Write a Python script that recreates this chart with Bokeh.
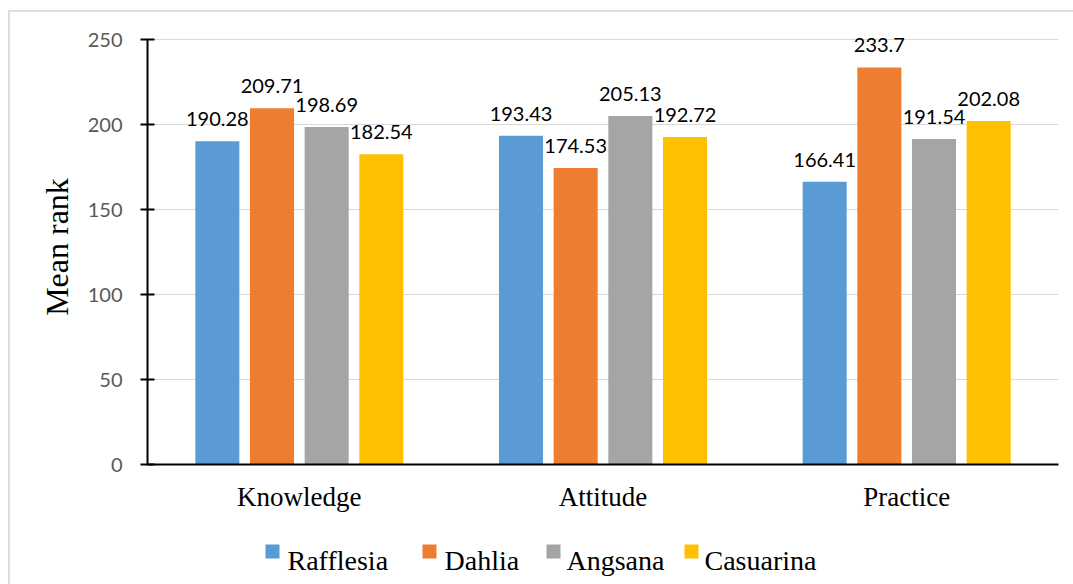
from bokeh.plotting import figure
from bokeh.layouts import column
from bokeh.models import ColumnDataSource, FactorRange, Range1d, SingleIntervalTicker
from bokeh.transform import dodge
from bokeh.core.properties import value
from bokeh.embed import file_html
from bokeh.resources import INLINE

categories = ["Knowledge", "Attitude", "Practice"]
series = ["Rafflesia", "Dahlia", "Angsana", "Casuarina"]
rafflesia = [190.28, 193.43, 166.41]
dahlia = [209.71, 174.53, 233.7]
angsana = [198.69, 205.13, 191.54]
casuarina = [182.54, 192.72, 202.08]
colors = ["#5B9BD5", "#ED7D31", "#A5A5A5", "#FFC000"]
offsets = [-0.27, -0.09, 0.09, 0.27]

values = [rafflesia, dahlia, angsana, casuarina]

p = figure(x_range=FactorRange(*categories), y_range=Range1d(0, 256),
           width=1063, height=516, output_backend="svg", toolbar_location=None,
           min_border_left=137, min_border_top=17, min_border_right=15, min_border_bottom=64)
p.outline_line_color = None
p.xgrid.grid_line_color = None
p.ygrid.grid_line_color = "#d9d9d9"
p.ygrid.grid_line_width = 1

p.yaxis.ticker = SingleIntervalTicker(interval=50)
p.yaxis.bounds = (0, 250)
p.yaxis.axis_line_color = "black"
p.yaxis.axis_line_width = 2
p.yaxis.major_tick_line_color = "black"
p.yaxis.major_tick_line_width = 2
p.yaxis.major_tick_in = 7
p.yaxis.major_tick_out = 7
p.yaxis.minor_tick_line_color = None
p.yaxis.major_label_text_font = "Lato"
p.yaxis.major_label_text_font_size = "20px"
p.yaxis.major_label_text_color = "#595959"
p.yaxis.major_label_standoff = 18
p.yaxis.axis_label = "Mean rank"
p.yaxis.axis_label_text_font = "Liberation Serif"
p.yaxis.axis_label_text_font_size = "32px"
p.yaxis.axis_label_text_font_style = "normal"
p.yaxis.axis_label_text_color = "black"
p.yaxis.axis_label_standoff = 10

p.xaxis.axis_line_color = "black"
p.xaxis.axis_line_width = 2
p.xaxis.major_tick_line_color = None
p.xaxis.major_tick_out = 0
p.xaxis.major_tick_in = 0
p.xaxis.major_label_text_font = "Liberation Serif"
p.xaxis.major_label_text_font_size = "27px"
p.xaxis.major_label_text_color = "black"
p.xaxis.major_label_standoff = 17

for name, vals, col, off in zip(series, values, colors, offsets):
    src = ColumnDataSource(dict(cat=categories, val=vals, lab=[f"{v:g}" for v in vals]))
    p.vbar(x=dodge("cat", off, range=p.x_range), top="val", width=0.145, source=src,
           fill_color=col, line_color=None)
    p.text(x=dodge("cat", off, range=p.x_range), y="val", text="lab", source=src,
           text_font=value("Lato"), text_font_size="20px", text_color="black",
           text_align="center", text_baseline="alphabetic", y_offset=-22)

# legend strip (pixel coordinates: 1 data unit = 1 px)
lg = figure(width=1063, height=56, x_range=Range1d(0, 911), y_range=Range1d(0, 56),
            output_backend="svg", toolbar_location=None,
            min_border_left=137, min_border_right=15, min_border_top=0, min_border_bottom=0)
lg.axis.visible = False
lg.grid.visible = False
lg.outline_line_color = None
swatch_x = [125, 282, 406, 544]
label_x = [140, 297, 419, 557]
leg_src = ColumnDataSource(dict(sx=swatch_x, lx=label_x, name=series, color=colors))
lg.rect(x="sx", y=33, width=14, height=14, fill_color="color", line_color=None, source=leg_src)
lg.text(x="lx", y=24, text="name", source=leg_src,
        text_font=value("Liberation Serif"), text_font_size="28px", text_color="black",
        text_align="left", text_baseline="alphabetic")

layout = column(p, lg, spacing=0,
                styles={"margin-left": "8px", "margin-top": "10px",
                        "border-top": "2px solid #dedede", "border-left": "2px solid #dedede"})
open("out.html", "w").write(file_html(layout, INLINE))
